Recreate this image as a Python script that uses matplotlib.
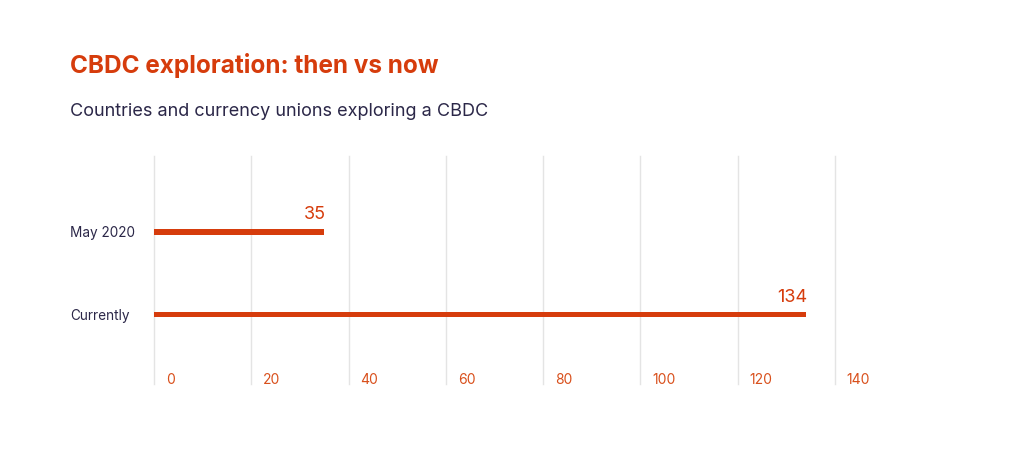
import matplotlib.pyplot as plt
import matplotlib.transforms as mtransforms

categories = ["May 2020", "Currently"]
values = [35, 134]
ticks = [0, 20, 40, 60, 80, 100, 120, 140]

orange = "#D63C0C"
navy = "#2B2748"
grid_col = "#E4E4E4"

plt.rcParams['font.family'] = ['Inter', 'DejaVu Sans']

fig = plt.figure(figsize=(10.24, 4.77), dpi=100)
ax = fig.add_axes([154 / 1024, 1 - 385 / 477, (835 - 154) / 1024, (385 - 157) / 477])

ypos = list(range(len(categories)))
ax.barh(ypos, values, height=0.065, color=orange, zorder=3)

ax.set_xlim(0, 140)
ax.set_ylim(1.835, -0.915)
ax.set_xticks(ticks)
ax.set_yticks([])
ax.tick_params(axis='x', length=0, labelbottom=False)
ax.grid(axis='x', color=grid_col, linewidth=1, zorder=0)
for gl in ax.get_xgridlines():
    gl.set_clip_on(False)
for s in ax.spines.values():
    s.set_visible(False)

# value labels above bar ends
for y, v in zip(ypos, values):
    ax.annotate(str(v), (v, y), xytext=(1, 7), textcoords='offset points',
                ha='right', va='bottom', color=orange, fontsize=13)

# category labels on the left
lbl_tr = mtransforms.blended_transform_factory(ax.transAxes, ax.transData)
for y, c in zip(ypos, categories):
    ax.text(-84 / 681, y, c, transform=lbl_tr, ha='left', va='center',
            color=navy, fontsize=9.8)

# tick labels, left aligned next to the gridlines
tk_tr = mtransforms.blended_transform_factory(ax.transData, ax.transAxes)
for t in ticks:
    ax.annotate(str(t), (t, 5 / 228), xycoords=tk_tr, xytext=(8.5, 0),
                textcoords='offset points', ha='left', va='center',
                color="#D9501C", fontsize=10)

fig.text(70 / 1024, 1 - 66 / 477, "CBDC exploration: then vs now", color=orange,
         fontsize=17.5, fontweight='bold', ha='left', va='center')
fig.text(70 / 1024, 1 - 112 / 477, "Countries and currency unions exploring a CBDC",
         color=navy, fontsize=13, ha='left', va='center')

fig.savefig("out.png", dpi=100, facecolor='white')
